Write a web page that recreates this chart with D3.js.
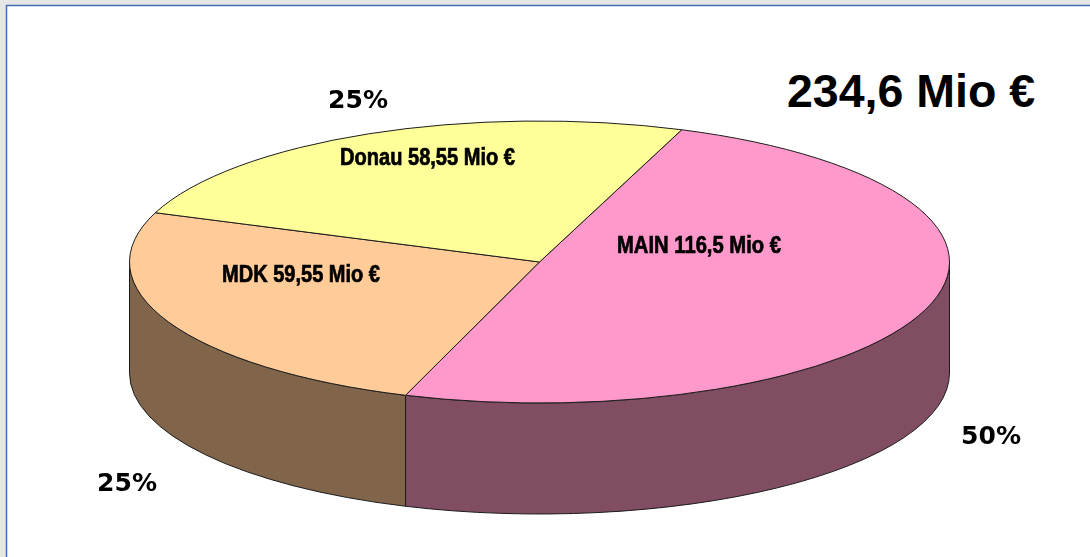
<!DOCTYPE html>
<html>
<head>
<meta charset="utf-8">
<script src="https://cdn.jsdelivr.net/npm/d3@7.9.0/dist/d3.min.js"></script>
<style>
  html, body { margin: 0; padding: 0; background: #fff; }
  svg { display: block; }
</style>
</head>
<body>
<svg id="chart" width="1090" height="557"></svg>
<script>
const names = ["MAIN", "MDK", "Donau"];
const values = [116.5, 59.55, 58.55];
const valueLabels = ["MAIN 116,5 Mio €", "MDK 59,55 Mio €", "Donau 58,55 Mio €"];
const percentLabels = ["50%", "25%", "25%"];
const topColors = ["#ff99cc", "#ffcc99", "#ffff99"];
const sideColors = ["#804d63", "#80654c", "#80804c"];
const totalLabel = "234,6 Mio €";

const svg = d3.select("#chart"),
      width = +svg.attr("width"),
      height = +svg.attr("height");

const cx = 539.5, cy = 262, rx = 410, ry = 141, depth = 111;
const deg = Math.PI / 180;

// the reference is a slightly soft screenshot
svg.append("defs").append("filter")
    .attr("id", "soft")
  .append("feGaussianBlur")
    .attr("stdDeviation", 0.4);

// frame of the slide
svg.append("rect").attr("width", width).attr("height", height).attr("fill", "#e6e6e6");
svg.append("rect")
    .attr("x", 6.5).attr("y", 5.5)
    .attr("width", width).attr("height", height)
    .attr("fill", "#fff")
    .attr("stroke", "#3f6fb5")
    .attr("stroke-width", 1.5);

const pie = d3.pie()
    .sort(null)
    .startAngle(20.3 * deg)
    .endAngle(380.3 * deg);
const slices = pie(values);

const px = a => cx + rx * Math.sin(a);
const py = a => cy - ry * Math.cos(a);

// wall of a slice, only the part facing the viewer (90deg..270deg)
function wallPath(d) {
  const a0 = Math.max(d.startAngle, 90 * deg),
        a1 = Math.min(d.endAngle, 270 * deg);
  if (a1 <= a0) return null;
  const large = a1 - a0 > Math.PI ? 1 : 0;
  return `M${px(a0)},${py(a0)}` +
    `A${rx},${ry} 0 ${large} 1 ${px(a1)},${py(a1)}` +
    `L${px(a1)},${py(a1) + depth}` +
    `A${rx},${ry} 0 ${large} 0 ${px(a0)},${py(a0) + depth}Z`;
}

const pieGroup = svg.append("g").attr("filter", "url(#soft)");

pieGroup.append("g").selectAll("path")
  .data(slices)
  .join("path")
    .attr("d", wallPath)
    .attr("fill", (d, i) => sideColors[i])
    .attr("stroke", "#1c1c1c")
    .attr("stroke-width", 1);

const arc = d3.arc().innerRadius(0).outerRadius(rx);

pieGroup.append("g")
    .attr("transform", `translate(${cx},${cy}) scale(1,${ry / rx})`)
  .selectAll("path")
  .data(slices)
  .join("path")
    .attr("d", arc)
    .attr("fill", (d, i) => topColors[i])
    .attr("stroke", "#1c1c1c")
    .attr("stroke-width", 1)
    .attr("vector-effect", "non-scaling-stroke");

// label positions, one per slice
const valueX = [617, 222, 340];
const valueY = [253, 282, 165];
const valueW = [164, 158, 175];
const percentX = [961, 97, 328];
const percentY = [444, 491, 108];

const labels = svg.append("g").attr("filter", "url(#soft)");

labels.append("g").selectAll("text")
  .data(valueLabels)
  .join("text")
    .attr("x", (d, i) => valueX[i])
    .attr("y", (d, i) => valueY[i])
    .attr("textLength", (d, i) => valueW[i])
    .attr("lengthAdjust", "spacingAndGlyphs")
    .attr("font-family", "'Liberation Sans', Arial, sans-serif")
    .attr("font-weight", "bold")
    .attr("font-size", 24)
    .attr("fill", "#000")
    .attr("stroke", "#000")
    .attr("stroke-width", 0.7)
    .text(d => d);

labels.append("g").selectAll("text")
  .data(percentLabels)
  .join("text")
    .attr("x", (d, i) => percentX[i])
    .attr("y", (d, i) => percentY[i])
    .attr("textLength", 60)
    .attr("lengthAdjust", "spacingAndGlyphs")
    .attr("font-family", "'DejaVu Sans', sans-serif")
    .attr("font-weight", "bold")
    .attr("font-size", 24)
    .attr("fill", "#000")
    .text(d => d);

svg.append("text")
    .attr("x", 787)
    .attr("y", 107)
    .attr("font-family", "'Liberation Sans', Arial, sans-serif")
    .attr("font-weight", "bold")
    .attr("font-size", 46.5)
    .attr("fill", "#000")
    .text(totalLabel);
</script>
</body>
</html>
